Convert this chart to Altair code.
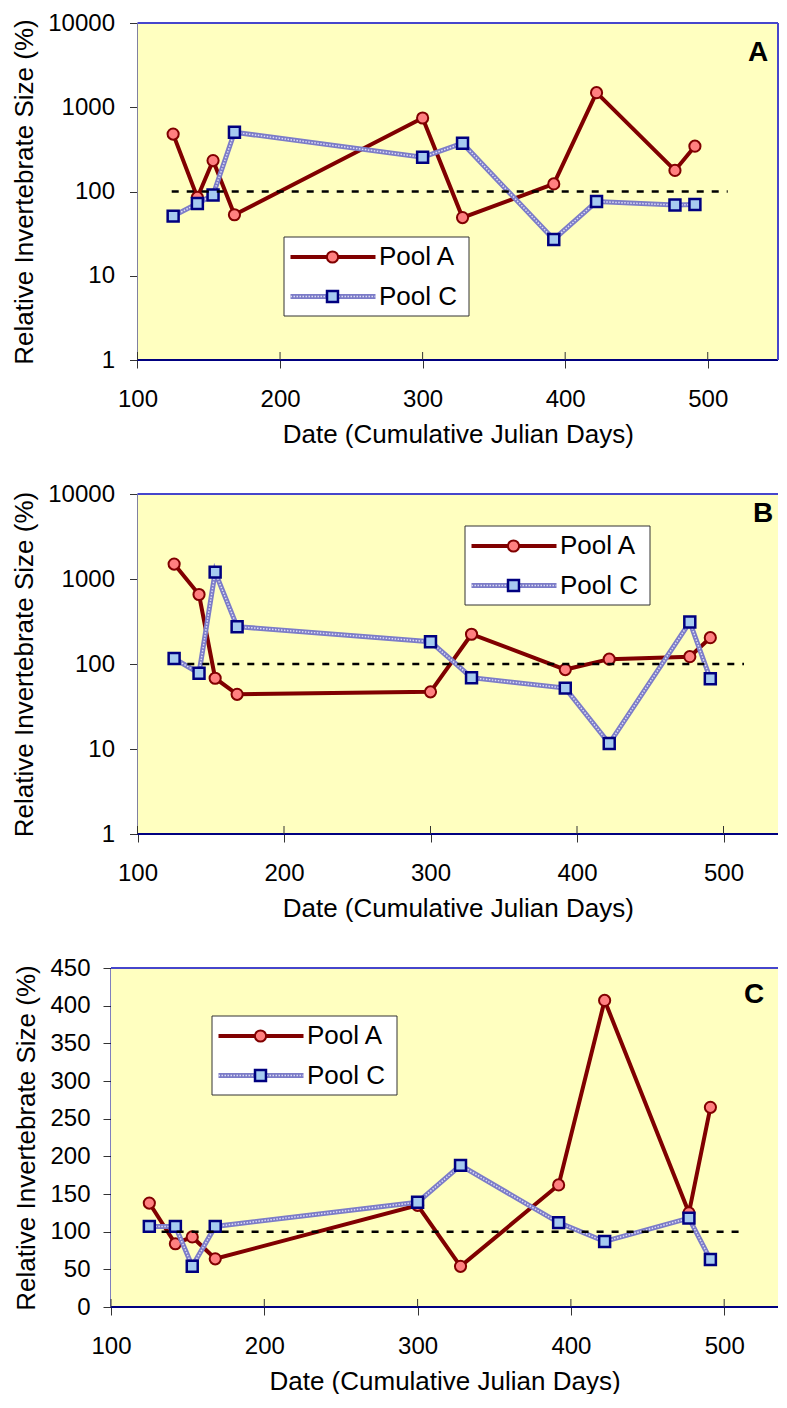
import altair as alt
import pandas as pd

# ---------------- data ----------------
days = [125, 142, 153, 168, 300, 328, 392, 422, 477, 491]
series_names = ["Pool A", "Pool C"]

a_pool_a = [480, 85, 233, 53, 745, 49, 123, 1490, 178, 345]
a_pool_c = [51, 72, 91, 505, 255, 374, 27, 76, 69, 70]

b_pool_a = [1497, 657, 68, 44, 47, 224, 86, 114, 122, 204]
b_pool_c = [116, 78, 1205, 275, 183, 69, 52, 11.6, 312, 67]

c_pool_a = [138, 84, 93, 64, 135, 54, 162, 407, 125, 265]
c_pool_c = [107, 107, 54, 107, 139, 188, 112, 87, 118, 63]

ref_value = 100
ref_a = [124, 514]
ref_b = [134, 514]
ref_c = [133, 513]

x_ticks = [100, 200, 300, 400, 500]
log_ticks = [1, 10, 100, 1000, 10000]
lin_ticks = [0, 50, 100, 150, 200, 250, 300, 350, 400, 450]

FONT = "Liberation Sans"
RED = "#800000"
RED_FILL = "#FF8080"
BLUE_LINE = "#7C7CC8"
BLUE_TEX = "#DCDCF4"
SQ_FILL = "#A6CAF0"
SQ_EDGE = "#000080"
BG = "#FFFFC0"
TOP_EDGE = "#4646CC"
AXIS_EDGE = "#000080"
CIRCLE_SIZE = 125
SQUARE_SIZE = 120


def one():
    return pd.DataFrame({"k": [0]})


def panel(letter, pool_a, pool_c, ref, log, shift, px_per_unit, width, height, leg, letter_pos,
          right_border, ylab_pad):
    # shift: pixels between the group origin and the visible left edge (x = 100)
    xmin = 100 - shift / px_per_unit
    xmax = xmin + width / px_per_unit
    x_scale = alt.Scale(domain=[xmin, xmax], nice=False, zero=False)
    if log:
        y_scale = alt.Scale(type="log", domain=[1, 10000], nice=False)
        y_vals = log_ticks
    else:
        y_scale = alt.Scale(domain=[0, 450], nice=False, zero=True)
        y_vals = lin_ticks

    x_axis = alt.Axis(values=x_ticks, title="Date (Cumulative Julian Days)", format="d",
                      labelFlush=False, labelPadding=19, titlePadding=10, labelOverlap=False,
                      domain=False, titleX=shift + (width - shift) / 2)
    y_axis = alt.Axis(values=y_vals, title="Relative Invertebrate Size (%)", format="d",
                      labelPadding=ylab_pad, titlePadding=10, labelOverlap=False, offset=-shift)

    da = pd.DataFrame({"day": days, "value": pool_a})
    dc = pd.DataFrame({"day": days, "value": pool_c})
    dref = pd.DataFrame({"x": [ref[0]], "x2": [ref[1]], "y": [ref_value]})
    dticks = pd.DataFrame({"t": x_ticks})
    dframe = pd.DataFrame({"x": [100], "x2": [xmax]})

    def ax(field):
        return alt.X(field, scale=x_scale, axis=x_axis)

    def ay(field):
        return alt.Y(field, scale=y_scale, axis=y_axis)

    bg = alt.Chart(dframe).mark_rect(fill=BG).encode(
        x=ax("x:Q"), x2="x2:Q", y=alt.value(0), y2=alt.value(height))
    top_edge = alt.Chart(dframe).mark_rule(color=TOP_EDGE, strokeWidth=2).encode(
        x=ax("x:Q"), x2="x2:Q", y=alt.value(0))
    bottom_edge = alt.Chart(dframe).mark_rule(color=AXIS_EDGE, strokeWidth=2).encode(
        x=ax("x:Q"), x2="x2:Q", y=alt.value(height))
    layers = [bg, top_edge, bottom_edge]
    if right_border:
        layers.append(alt.Chart(dframe).mark_rule(color=TOP_EDGE, strokeWidth=2).encode(
            x=ax("x2:Q"), y=alt.value(0), y2=alt.value(height)))

    inner_ticks = alt.Chart(dticks).mark_rule(color="#333333", strokeWidth=1).encode(
        x=ax("t:Q"), y=alt.value(height - 8), y2=alt.value(height))

    X, Y = ax("day:Q"), ay("value:Q")
    line_a = alt.Chart(da).mark_line(color=RED, strokeWidth=4).encode(x=X, y=Y)
    pts_a = alt.Chart(da).mark_point(shape="circle", fill=RED_FILL, stroke=RED, strokeWidth=2,
                                     size=CIRCLE_SIZE, opacity=1, fillOpacity=1).encode(x=X, y=Y)
    line_c = alt.Chart(dc).mark_line(color=BLUE_LINE, strokeWidth=5).encode(x=X, y=Y)
    line_c_tex = alt.Chart(dc).mark_line(color=BLUE_TEX, strokeWidth=1.5,
                                         strokeDash=[1.5, 1.5]).encode(x=X, y=Y)
    pts_c = alt.Chart(dc).mark_point(shape="square", fill=SQ_FILL, stroke=SQ_EDGE, strokeWidth=2.5,
                                     size=SQUARE_SIZE, opacity=1, fillOpacity=1).encode(x=X, y=Y)
    ref_line = alt.Chart(dref).mark_rule(color="black", strokeWidth=2.5, strokeDash=[7, 8]).encode(
        x=ax("x:Q"), x2="x2:Q", y=ay("y:Q"))

    # legend box (layout positions in plot pixels)
    bx, by = leg
    bw, bh = 185, 79
    r1, r2 = by + 20, by + 59.5
    l1, l2, mk, tx = bx + 6.5, bx + 91.5, bx + 48.5, bx + 95
    leg_box = alt.Chart(one()).mark_rect(fill="white", stroke="#333333", strokeWidth=1).encode(
        x=alt.value(bx), x2=alt.value(bx + bw), y=alt.value(by), y2=alt.value(by + bh))
    leg_la = alt.Chart(one()).mark_rule(color=RED, strokeWidth=4).encode(
        x=alt.value(l1), x2=alt.value(l2), y=alt.value(r1))
    leg_pa = alt.Chart(one()).mark_point(shape="circle", fill=RED_FILL, stroke=RED, strokeWidth=2,
                                         size=CIRCLE_SIZE, opacity=1, fillOpacity=1).encode(
        x=alt.value(mk), y=alt.value(r1))
    leg_lc = alt.Chart(one()).mark_rule(color=BLUE_LINE, strokeWidth=5).encode(
        x=alt.value(l1), x2=alt.value(l2), y=alt.value(r2))
    leg_lct = alt.Chart(one()).mark_rule(color=BLUE_TEX, strokeWidth=1.5, strokeDash=[1.5, 1.5]).encode(
        x=alt.value(l1), x2=alt.value(l2), y=alt.value(r2))
    leg_pc = alt.Chart(one()).mark_point(shape="square", fill=SQ_FILL, stroke=SQ_EDGE, strokeWidth=2.5,
                                         size=SQUARE_SIZE, opacity=1, fillOpacity=1).encode(
        x=alt.value(mk), y=alt.value(r2))
    leg_ta = alt.Chart(one()).mark_text(align="left", baseline="middle", fontSize=26, font=FONT,
                                        color="black").encode(
        x=alt.value(tx), y=alt.value(r1), text=alt.value(series_names[0]))
    leg_tc = alt.Chart(one()).mark_text(align="left", baseline="middle", fontSize=26, font=FONT,
                                        color="black").encode(
        x=alt.value(tx), y=alt.value(r2), text=alt.value(series_names[1]))

    letter_txt = alt.Chart(one()).mark_text(align="center", baseline="middle", fontSize=28,
                                            fontWeight="bold", font=FONT, color="black").encode(
        x=alt.value(letter_pos[0]), y=alt.value(letter_pos[1]), text=alt.value(letter))

    layers += [inner_ticks, line_a, pts_a, line_c, line_c_tex, pts_c, ref_line,
               leg_box, leg_la, leg_pa, leg_lc, leg_lct, leg_pc, leg_ta, leg_tc, letter_txt]
    return alt.layer(*layers).properties(width=width, height=height)


W = 667
pa = panel("A", a_pool_a, a_pool_c, ref_a, True, 26.5, 1.4256, W, 337, (173, 214), (647, 30), True, 15)
pb = panel("B", b_pool_a, b_pool_c, ref_b, True, 26.5, 1.465, W, 340, (354, 32), (652, 20), False, 15)
pc = panel("C", c_pool_a, c_pool_c, ref_c, False, 0, 1.533, W, 339, (101, 48), (643, 27), False, 13)

chart = alt.vconcat(pa, pb, pc, spacing=35).properties(
    padding={"left": 3, "top": 3, "right": 0, "bottom": 0}
).configure_view(
    fill=None, stroke=None
).configure_axis(
    labelFont=FONT, titleFont=FONT, labelFontSize=24, titleFontSize=26,
    titleFontWeight="normal", labelColor="black", titleColor="black",
    tickColor="#333333", tickSize=8, tickWidth=1,
    domainColor=AXIS_EDGE, domainWidth=2, grid=False,
)

chart.save("out.html", embed_options={"renderer": "svg", "actions": False})
